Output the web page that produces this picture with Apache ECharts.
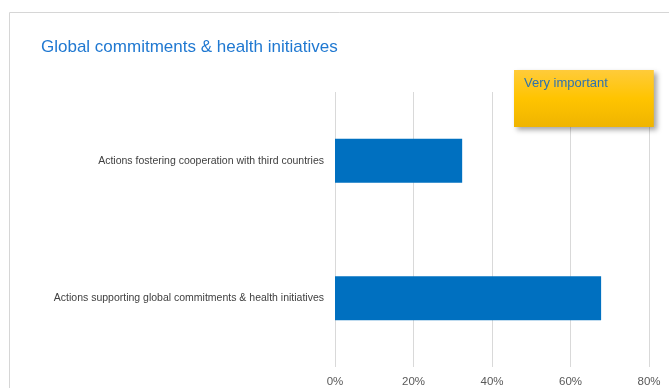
<!DOCTYPE html>
<html>
<head>
<meta charset="utf-8">
<script src="https://cdn.jsdelivr.net/npm/echarts@6/dist/echarts.min.js"></script>
<style>
  html, body { margin: 0; padding: 0; background: #ffffff; }
  #chart { width: 669px; height: 388px; }
</style>
</head>
<body>
<div id="chart"></div>
<script>
// Categories listed bottom-to-top (ECharts category axis on y grows upward)
const categories = [
  'Actions supporting global commitments & health initiatives',
  'Actions fostering cooperation with third countries'
];
const seriesName = 'Very important';
const values = [67.8, 32.4];
const tickMax = 80;
const tickStep = 20;

const fontFamily = '"Liberation Sans", "Noto Sans", sans-serif';

const chart = echarts.init(document.getElementById('chart'), null, { renderer: 'canvas' });
chart.setOption({
  backgroundColor: '#ffffff',
  animation: false,
  title: {
    text: 'Global commitments & health initiatives',
    left: 36,
    top: 34,
    textStyle: { color: '#1f78d1', fontSize: 17, fontWeight: 'normal', fontFamily }
  },
  graphic: [
    {
      type: 'rect',
      shape: { x: 9.5, y: 12.5, width: 760, height: 420 },
      style: { fill: 'none', stroke: '#d6d6d6', lineWidth: 1 },
      z: 0
    }
  ],
  legend: {
    data: [{ name: seriesName, icon: 'none' }],
    left: 514,
    top: 70,
    itemWidth: 0,
    itemHeight: 0,
    itemGap: 0,
    padding: [7, 46, 37, 5],
    backgroundColor: new echarts.graphic.LinearGradient(0, 0, 0, 1, [
      { offset: 0, color: '#ffcb3a' },
      { offset: 0.5, color: '#ffc400' },
      { offset: 1, color: '#efb400' }
    ]),
    shadowColor: 'rgba(0,0,0,0.35)',
    shadowBlur: 5,
    shadowOffsetX: 3,
    shadowOffsetY: 3,
    selectedMode: false,
    textStyle: { color: '#2f72ad', fontSize: 13, fontFamily }
  },
  grid: { left: 335, right: 20, top: 92, bottom: 21, containLabel: false },
  xAxis: {
    type: 'value',
    min: 0,
    max: tickMax,
    interval: tickStep,
    axisLine: { show: false },
    axisTick: { show: false },
    splitLine: { show: true, lineStyle: { color: '#d9d9d9', width: 1 } },
    axisLabel: {
      formatter: v => v + '%',
      color: '#595959',
      fontSize: 11.5,
      fontFamily,
      margin: 9
    }
  },
  yAxis: {
    type: 'category',
    data: categories,
    axisLine: { show: false },
    axisTick: { show: false },
    axisLabel: { color: '#404040', fontSize: 10.5, fontFamily, margin: 11 }
  },
  series: [
    {
      name: seriesName,
      type: 'bar',
      data: values,
      barWidth: '32%',
      itemStyle: { color: '#0070c0' }
    }
  ]
});
</script>
</body>
</html>
